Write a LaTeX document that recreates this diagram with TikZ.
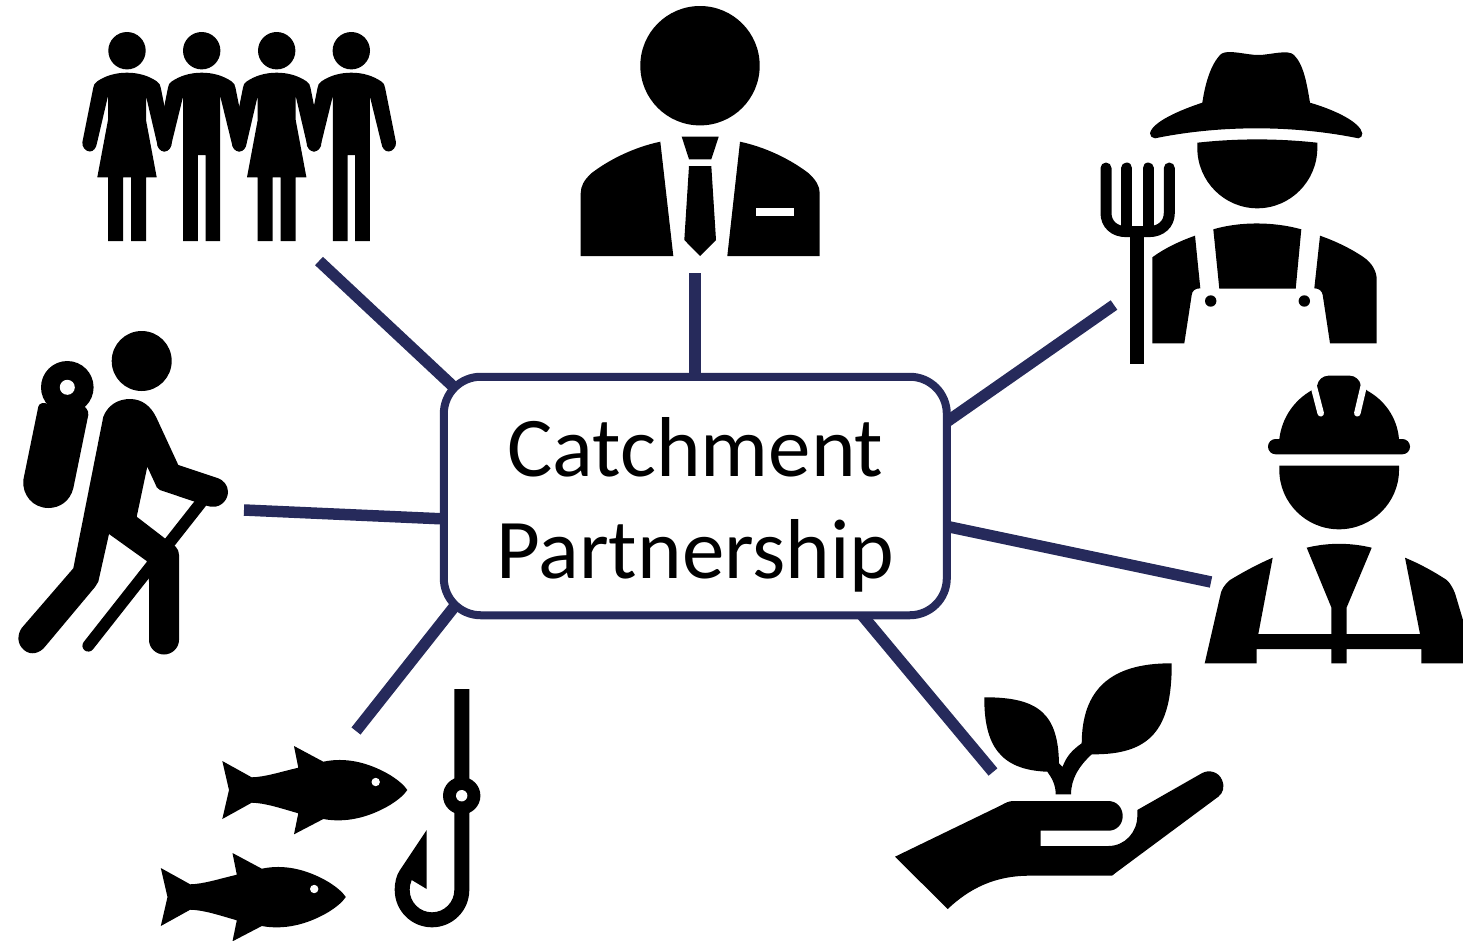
\documentclass[tikz,border=0pt]{standalone}
\usepackage{fontspec}
\setmainfont{Carlito}
\definecolor{hubnavy}{HTML}{262A5B}
\tikzset{
  icon/.style={fill=black,draw=none},
  hole/.style={fill=white,draw=none},
  link/.style={draw=hubnavy,line width=11.5pt},
  hubbox/.style={draw=hubnavy,line width=8pt,fill=white,rounded corners=37pt,minimum width=503pt,minimum height=238.5pt,inner sep=0pt},
  hubtext/.style={align=center,inner sep=0pt,font=\fontsize{85}{102}\selectfont},
  tine/.style={draw=black,line width=11pt,line cap=round}
}
\newcommand{\manfig}[1]{%
 \begin{scope}[shift={(#1,0)}]
  \fill[icon] (0,50.7) circle[radius=18.7pt];
  \fill[icon] (0,72.7) .. controls (12,72.7) and (22,76) .. (30,81.5) .. controls (32.5,83) and (33.3,85) .. (33.8,88)
   -- (44.6,142) .. controls (45.5,147) and (41,151.5) .. (37.3,151.5) .. controls (33.5,151.5) and (30.7,148) .. (30,143)
   -- (18.5,96) -- (18.5,241) -- (3.8,241) -- (3.8,155) -- (-3.8,155) -- (-3.8,241) -- (-18.5,241) -- (-18.5,96)
   -- (-30,143) .. controls (-30.7,148) and (-33.5,151.5) .. (-37.3,151.5) .. controls (-41,151.5) and (-45.5,147) .. (-44.6,142)
   -- (-33.8,88) .. controls (-33.3,85) and (-32.5,83) .. (-30,81.5) .. controls (-22,76) and (-12,72.7) .. (0,72.7) -- cycle;
 \end{scope}}
\newcommand{\womanfig}[1]{%
 \begin{scope}[shift={(#1,0)}]
  \fill[icon] (0,50.7) circle[radius=18.7pt];
  \fill[icon] (0,72.7) .. controls (12,72.7) and (22,76) .. (30,81.5) .. controls (32.5,83) and (33.3,85) .. (33.8,88)
   -- (44.6,142) .. controls (45.5,147) and (41,151.5) .. (37.3,151.5) .. controls (33.5,151.5) and (30.7,148) .. (30,143)
   -- (19,96) -- (19,120) -- (29.7,177.3) -- (19,177.3) -- (19,241) -- (4,241) -- (4,177.3) -- (-4,177.3) -- (-4,241) -- (-19,241) -- (-19,177.3) -- (-29.7,177.3) -- (-19,120) -- (-19,96)
   -- (-30,143) .. controls (-30.7,148) and (-33.5,151.5) .. (-37.3,151.5) .. controls (-41,151.5) and (-45.5,147) .. (-44.6,142)
   -- (-33.8,88) .. controls (-33.3,85) and (-32.5,83) .. (-30,81.5) .. controls (-22,76) and (-12,72.7) .. (0,72.7) -- cycle;
 \end{scope}}
\newcommand{\fishfig}[2]{%
 \begin{scope}[shift={(#1,#2)}]
  \fill[icon] (222.3,761) -- (251.7,777.3) .. controls (265,777) and (280,772) .. (298.3,767.7) -- (294,746) -- (323.3,761.7)
   .. controls (345,757) and (368,762) .. (390,775) .. controls (398,780) and (404,785) .. (407.3,790)
   .. controls (404,795) and (398,800) .. (390,805) .. controls (368,818) and (345,823) .. (323.3,819)
   -- (294,834.3) -- (298.3,813.3) .. controls (280,808) and (265,803) .. (251.7,802.7) -- (222.3,819) -- (229,790) -- cycle;
  \fill[hole] (375.7,782) circle[radius=4.2pt];
 \end{scope}}
\begin{document}
\begin{tikzpicture}[x=1pt,y=-1pt]
\useasboundingbox (0,0) rectangle (1463,940);
% connector ends
\coordinate (peopleEnd) at (319,261); \coordinate (peopleHub) at (458,391);
\coordinate (officialEnd) at (695,273); \coordinate (officialHub) at (695,380);
\coordinate (farmerEnd) at (1114,305); \coordinate (farmerHub) at (945,423);
\coordinate (workerEnd) at (1211,582); \coordinate (workerHub) at (945,526);
\coordinate (plantEnd) at (993,772); \coordinate (plantHub) at (862,615);
\coordinate (fishEnd) at (356,731); \coordinate (fishHub) at (458,602);
\coordinate (hikerEnd) at (244,510); \coordinate (hikerHub) at (446,519);
\foreach \a/\b in {peopleEnd/peopleHub,officialEnd/officialHub,farmerEnd/farmerHub,workerEnd/workerHub,plantEnd/plantHub,fishEnd/fishHub,hikerEnd/hikerHub}
  \draw[link] (\a) -- (\b);
\node[hubbox] (hub) at (695.3,496) {};
\node[hubtext] (hublabel) at (695.5,504.5) {Catchment\\Partnership};
% people
\womanfig{127}
\manfig{201.7}
\womanfig{276.7}
\manfig{351.3}
% official
\fill[icon] (700,65.7) circle[radius=59.7pt];
\fill[icon] (660.3,141.7) .. controls (635,147) and (610,159) .. (591.7,173) .. controls (584,180) and (580.7,186) .. (580.7,193.3) -- (580.7,256) -- (673.3,256) -- cycle;
\fill[icon] (740,141.7) .. controls (765,147) and (790,159) .. (808.3,173) .. controls (816,180) and (819.7,186) .. (819.7,193.3) -- (819.7,256) -- (727.3,256) -- cycle;
\fill[hole] (756,208) rectangle (793.7,215.7);
\fill[icon] (681.7,136.7) -- (718.7,136.7) -- (711.3,159.3) -- (689,159.3) -- cycle;
\fill[icon] (689,166) -- (711.3,166) -- (716,240) -- (700,256) -- (684.3,240) -- cycle;
% farmer
\fill[icon] (1150,133.3) .. controls (1150,136) and (1152,138.3) .. (1155,138.3) .. controls (1220,125) and (1293,125) .. (1358.3,138.3) .. controls (1361,138.3) and (1362.3,136) .. (1362.3,133.3)
  .. controls (1360,122) and (1335,110) .. (1310,102.7) .. controls (1307,85) and (1304,65) .. (1294,55) .. controls (1288,49) and (1270,55) .. (1258.3,55) .. controls (1246,55) and (1228,49) .. (1221,54) .. controls (1210,65) and (1205,85) .. (1202.3,102.7)
  .. controls (1180,110) and (1152,122) .. (1150,133.3) -- cycle;
\fill[icon] (1197.3,142.7) .. controls (1237,138.3) and (1277,138.3) .. (1317.3,142.7) -- (1317.3,148) .. controls (1317.3,181.1) and (1290.4,208.3) .. (1257.3,208.3) .. controls (1224.2,208.3) and (1197.3,181.1) .. (1197.3,148) -- cycle;
\draw[tine] (1106,168) -- (1106,213) .. controls (1106,224) and (1114,231.6) .. (1126,231.6) -- (1149,231.6) .. controls (1161,231.6) and (1169.3,224) .. (1169.3,213) -- (1169.3,168);
\draw[tine] (1126.7,168) -- (1126.7,228);
\draw[tine] (1148,168) -- (1148,228);
\fill[icon] (1129.5,231) rectangle (1144.3,364);
\fill[icon] (1152.3,257.3) .. controls (1165,248) and (1180,241) .. (1195,235.7) -- (1200.3,288.3) .. controls (1195,288.3) and (1192,291) .. (1191.7,295) -- (1184.3,343.3) -- (1152.3,343.3) -- cycle;
\fill[icon] (1213.3,229.3) .. controls (1240,221.5) and (1273,221.5) .. (1301.3,229.3) -- (1295.7,288.7) -- (1219.3,288.7) -- cycle;
\fill[icon] (1320,235.7) .. controls (1335,241) and (1350,248) .. (1363.3,257) .. controls (1372,263) and (1376.7,271) .. (1376.7,280) -- (1376.7,343.3) -- (1330,343.3) -- (1322.7,295) .. controls (1322,291) and (1319,288.3) .. (1314.3,288.3) -- cycle;
\fill[icon] (1210.7,301) circle[radius=5.7pt];
\fill[icon] (1304.3,301) circle[radius=5.7pt];
% worker
\fill[icon] (1279.3,439) .. controls (1282,416.7) and (1295,400) .. (1311,390.7) -- (1317.3,385) .. controls (1318,380) and (1323,375.7) .. (1328.3,375.7) -- (1350,375.7) .. controls (1355,375.7) and (1360,380) .. (1360.7,385) -- (1367.3,390.7) .. controls (1384,400) and (1397,416.7) .. (1399,439) -- cycle;
\draw[white,line width=6.5pt,line cap=round] (1310,372) -- (1320.7,413.3);
\draw[white,line width=6.5pt,line cap=round] (1367,372) -- (1357.3,413.3);
\fill[icon,rounded corners=7.6pt] (1268,439) rectangle (1410,454.3);
\fill[icon] (1279.3,465.7) -- (1399,465.7) -- (1399,470) .. controls (1399,502.5) and (1372,529.3) .. (1339,529.3) .. controls (1306,529.3) and (1279.3,502.5) .. (1279.3,470) -- cycle;
\fill[icon] (1272.7,557.7) .. controls (1258,564) and (1245,571) .. (1230,580) .. controls (1224,585) and (1221,590) .. (1220,596.7) -- (1204.7,663.3) -- (1256.7,663.3) -- (1256.7,649) -- (1331.3,649) -- (1331.3,663.3) -- (1346.7,663.3) -- (1346.7,649) -- (1421.3,649) -- (1421.3,663.3) -- (1463,663.3) -- (1463,620) -- (1455,593.3) .. controls (1453,588) and (1450,583) .. (1446.7,580) .. controls (1433,571) and (1420,564) .. (1405,557.7) -- (1420,634) -- (1346.7,634) -- (1346.7,607.3) -- (1371.7,547.7) .. controls (1350,542.5) and (1328,542.5) .. (1306.7,547.7) -- (1331.3,607.3) -- (1331.3,634) -- (1258.3,634) -- cycle;
% hiker
\fill[icon] (141.7,361) circle[radius=30pt];
\fill[icon] (67.3,387.3) circle[radius=26.3pt];
\fill[icon] (38.3,406.7) .. controls (39,403) and (44,402) .. (48,404) -- (78,404) .. controls (85,405) and (89,410) .. (88.3,415) -- (73.3,488.3) .. controls (70,501) and (60,508) .. (48.3,508) .. controls (33,508) and (22,495) .. (23.3,480) -- cycle;
\fill[hole] (67.3,387.3) circle[radius=7.5pt];
\draw[black,line width=11.8pt,line cap=round] (201.7,501.7) -- (88.3,645.7);
\fill[icon] (103.3,416.7) .. controls (108,405) and (118,399) .. (130,399) .. controls (142,399) and (151,406) .. (156.7,418.3) -- (178.3,465) -- (218.3,478.3) .. controls (223,480) and (228,485) .. (228,491.7) .. controls (228,500) and (221,507) .. (213.3,506.7) .. controls (209,507) and (205,505) .. (200,503.5) -- (160,490) .. controls (157,489) and (156,486) .. (155,483.3) -- (147.3,466.7) -- (136.7,516.7) -- (175.7,546.7) .. controls (178,549) and (179,552) .. (179,555) -- (179,640) .. controls (179,648) and (172,654.5) .. (164,654.5) .. controls (156,654.5) and (149,648) .. (149,640) -- (149,581.7) -- (146.7,561) -- (109,534) -- (98.3,581.7) .. controls (97.5,584) and (97,585) .. (95,587) -- (45,646.7) .. controls (40,653) and (31,656) .. (24,650) .. controls (17,644) and (17,635) .. (21.7,628) -- (73.3,568.3) -- cycle;
% fish
\fishfig{0}{0}
\fishfig{-61.5}{107}
% hook
\fill[icon] (461.7,795.7) circle[radius=18.7pt];
\fill[icon] (469.3,689) -- (469.3,890) .. controls (469.3,910.6) and (452.6,927.3) .. (432,927.3) .. controls (411.4,927.3) and (394.7,910.6) .. (394.7,890) .. controls (394.7,882) and (396.5,875) .. (400,870) -- (426.7,830) -- (426.7,889) -- (411.7,880) .. controls (410.5,883) and (409.7,886) .. (409.7,890) .. controls (409.7,902.3) and (419.7,912.3) .. (432,912.3) .. controls (444.3,912.3) and (454.3,902.3) .. (454.3,890) -- (454.3,689) -- cycle;
\fill[hole] (461.7,795.7) circle[radius=5.7pt];
% plant in hand
\fill[icon] (1171.7,663.3) .. controls (1110,663) and (1082,690) .. (1081.7,743.3) .. controls (1072,750) and (1066,757) .. (1062.5,767) -- (1059,763.3) .. controls (1058,715) and (1040,697) .. (984.3,697.3) .. controls (984,745) and (1000,770) .. (1047.3,771.7) .. controls (1052,778) and (1055.7,785) .. (1055.7,794.3) -- (1071,794.3) .. controls (1071,778) and (1080,765) .. (1091.7,754.3) .. controls (1150,755) and (1172,730) .. (1171.7,663.3) -- cycle;
\fill[icon] (895,856.7) -- (1001.7,805) .. controls (1005,803) and (1009,801) .. (1013.3,801) -- (1108.3,801) .. controls (1117,801) and (1122.7,808) .. (1122.7,816) .. controls (1122.7,824) and (1117,830.7) .. (1108.3,830.7) -- (1040.7,830.7) -- (1040.7,846) -- (1108.3,846) .. controls (1125,846) and (1137.3,832) .. (1137.3,816) -- (1137.3,810) -- (1201.7,773.3) .. controls (1209,769) and (1219,772) .. (1222,780) .. controls (1225,787) and (1223,793) .. (1218.3,796.7) -- (1115,873.3) .. controls (1113,875) and (1112.5,875.7) .. (1111.7,875.7) -- (1028.3,875.7) .. controls (995,876) and (970,888) .. (947.7,909) -- cycle;
\end{tikzpicture}
\end{document}
